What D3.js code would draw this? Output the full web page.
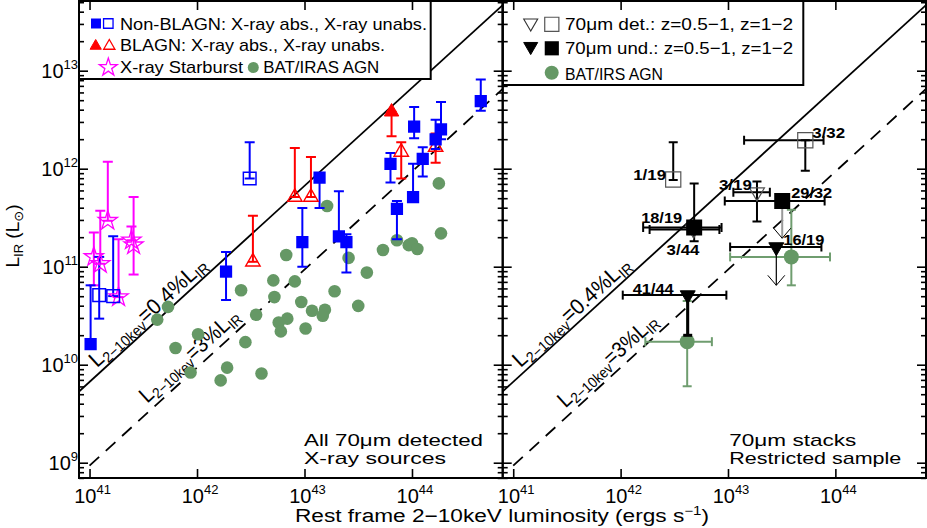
<!DOCTYPE html>
<html>
<head>
<meta charset="utf-8">
<script src="https://cdn.jsdelivr.net/npm/d3@7/dist/d3.min.js"></script>
<style>
  body { margin: 0; background: #fff; }
  text { font-family: "Liberation Sans", Arial, sans-serif; fill: #000; }
</style>
</head>
<body>
<svg id="graf" width="927" height="528"></svg>
<script>
// All values are log10: Lx in erg/s, LIR in Lsun

// Left panel, rows = [logLx, logLIR, logLIR low, logLIR high]
var nonBlagnAbs = [
  [41.01, 10.21, 10.21, 10.81],
  [42.27, 10.95, 10.66, 11.15],
  [42.98, 11.25, 11.00, 11.60],
  [43.14, 11.91, 11.60, 11.91],
  [43.32, 11.31, 11.31, 11.77],
  [43.39, 11.25, 10.94, 11.33],
  [43.80, 12.05, 11.86, 12.16],
  [43.86, 11.59, 11.28, 11.67],
  [44.01, 11.71, 11.71, 12.05],
  [44.02, 12.43, 12.31, 12.63],
  [44.10, 12.10, 11.92, 12.22],
  [44.22, 12.30, 12.20, 12.50],
  [44.27, 12.40, 12.30, 12.68],
  [44.64, 12.69, 12.59, 12.91]
];
var nonBlagnUnabs = [
  [41.09, 10.71, 10.47, 11.10],
  [41.22, 10.70, 10.70, 11.31],
  [42.49, 11.90, 11.90, 12.27]
];
var blagnAbs = [
  [43.81, 12.58, 12.33, 12.58]
];
var blagnUnabs = [
  [42.52, 11.05, 11.05, 11.52],
  [42.91, 11.71, 11.71, 12.21],
  [43.06, 11.71, 11.71, 12.12],
  [43.90, 12.17, 11.90, 12.27],
  [44.22, 12.22, 12.06, 12.36]
];
var starburst = [
  [41.04, 11.10, 10.81, 11.35],
  [41.10, 11.03, 11.03, 11.57],
  [41.17, 11.47, 11.47, 12.07],
  [41.27, 10.69, 10.69, 11.28],
  [41.39, 11.27, 11.27, 11.41],
  [41.41, 11.22, 10.92, 11.71]
];
// BAT/IRAS AGN, rows = [logLx, logLIR]
var batIras = [
  [42.83, 11.12], [42.71, 10.86], [42.91, 10.85], [42.41, 10.76], [42.72, 10.69],
  [41.73, 10.59], [42.55, 10.51], [41.63, 10.46], [42.84, 10.47], [42.76, 10.43],
  [42.78, 10.34], [42.01, 10.31], [41.80, 10.17], [42.45, 10.23], [42.28, 9.97],
  [42.60, 9.91], [41.94, 9.92], [42.22, 9.84], [43.21, 11.62], [44.25, 11.85],
  [44.27, 11.34], [43.41, 11.09], [43.73, 11.17], [43.86, 11.27], [43.97, 11.22],
  [44.00, 11.24], [44.05, 11.18], [43.58, 10.94], [43.28, 10.75], [42.97, 10.64],
  [43.07, 10.55], [43.19, 10.56], [43.17, 10.50], [43.50, 10.60], [43.01, 10.37]
];

// Right panel stacks, rows = [logLx, logLIR, Lx low, Lx high, LIR low, LIR high]
var detZ12 = [[42.49, 11.89, 42.49, 42.49, 11.885, 12.27], [43.72, 12.29, 43.15, 43.89, 11.98, 12.29]];
var detZ12Names = ["1/19", "3/32"];
var undZ12 = [[42.685, 11.40, 42.21, 42.94, 11.26, 11.85], [43.505, 11.67, 42.97, 43.90, 11.67, 11.67]];
var undZ12Names = ["18/19", "29/32"];
var detZ05 = [[43.27, 11.76, 43.05, 43.39, 11.46, 11.87], [42.68, 11.38, 42.27, 42.92, 11.38, 11.38]];
var detZ05Names = ["3/19", "3/44"];
var undZ05 = [[43.45, 11.20, 43.02, 43.87, 11.20, 11.20], [42.625, 10.71, 42.02, 42.985, 10.30, 10.71]];
var undZ05Names = ["16/19", "41/44"];
var batIrs = [[43.59, 11.10, 43.02, 43.95, 10.81, 11.58], [42.62, 10.235, 42.23, 42.85, 9.78, 10.65]];
// upper limits: [logLx, from logLIR, to logLIR]
var limitsGray = [[43.505, 11.62, 11.29]];
var limitsBlack = [[43.45, 11.20, 10.81]];

// L2-10keV = 0.4% and 3% of LIR (offset in log between Lx in erg/s and LIR in Lsun)
var solidOff = 31.175, dashOff = 32.03;

var xTicks = [41, 42, 43, 44];
var yTicks = [9, 10, 11, 12, 13];

// ---------------------------------------------------------
var P = function (v) { return Math.pow(10, v); };
var svg = d3.select("#graf");
svg.append("rect").attr("width", 927).attr("height", 528).attr("fill", "#fff");

var yTop = 1, yBot = 478;
var y = d3.scaleLog().domain([P(8.844), P(13.711)]).range([yBot, yTop]);
var xScales = [[79, 502.7], [502.7, 926]].map(function (r) {
  return d3.scaleLog().domain([P(40.902), P(44.844)]).range(r);
});
var green = "#659865";

var panels = xScales.map(function (x, i) {
  var r = x.range();
  svg.append("clipPath").attr("id", "clip" + i).append("rect")
    .attr("x", r[0]).attr("y", yTop).attr("width", r[1] - r[0]).attr("height", yBot - yTop);
  return svg.append("g").attr("clip-path", "url(#clip" + i + ")");
});

// reference lines + labels
var lineGen = d3.line();
function lineLabel(g, x, off, startLog, dist, pct, len) {
  var a0 = [x(P(startLog)), y(P(startLog - off))];
  var a1 = [x(P(startLog + 1)), y(P(startLog + 1 - off))];
  var ang = Math.atan2(a1[1] - a0[1], a1[0] - a0[0]);
  var px = a0[0] + Math.sin(ang) * dist, py = a0[1] - Math.cos(ang) * dist;
  var t = g.append("text").attr("font-size", 22)
    .attr("textLength", len).attr("lengthAdjust", "spacingAndGlyphs")
    .attr("transform", "translate(" + px + "," + py + ") rotate(" + (ang * 180 / Math.PI) + ")");
  t.append("tspan").text("L");
  t.append("tspan").attr("font-size", 15).attr("dy", 4).text("2−10kev");
  t.append("tspan").attr("dy", -4).text("=" + pct + "%L");
  t.append("tspan").attr("font-size", 15).attr("dy", 4).text("IR");
}
var dashStart = [41.58, 41.53];
panels.forEach(function (g, i) {
  var x = xScales[i], d = x.domain();
  g.append("path")
    .attr("d", lineGen([[x(d[0]), y(d[0] / P(solidOff))], [x(d[1]), y(d[1] / P(solidOff))]]))
    .attr("fill", "none").attr("stroke", "#000").attr("stroke-width", 1.8);
  g.append("path")
    .attr("d", lineGen([[x(P(41)), y(P(41 - dashOff))], [x(d[1]), y(d[1] / P(dashOff))]]))
    .attr("fill", "none").attr("stroke", "#000").attr("stroke-width", 1.8)
    .attr("stroke-dasharray", "13,9");
  lineLabel(g, x, solidOff, 41.1, 5, "0.4", 151);
  lineLabel(g, x, dashOff, dashStart[i], 7, "3", 127);
});

// helpers
function vBar(g, cx, lo, hi, color, w, cap) {
  g.append("line").attr("x1", cx).attr("x2", cx).attr("y1", lo).attr("y2", hi)
    .attr("stroke", color).attr("stroke-width", w);
  [lo, hi].forEach(function (yy) {
    g.append("line").attr("x1", cx - cap).attr("x2", cx + cap).attr("y1", yy).attr("y2", yy)
      .attr("stroke", color).attr("stroke-width", w);
  });
}
function hBar(g, cy, lo, hi, color, w, cap) {
  g.append("line").attr("y1", cy).attr("y2", cy).attr("x1", lo).attr("x2", hi)
    .attr("stroke", color).attr("stroke-width", w);
  [lo, hi].forEach(function (xx) {
    g.append("line").attr("y1", cy - cap).attr("y2", cy + cap).attr("x1", xx).attr("x2", xx)
      .attr("stroke", color).attr("stroke-width", w);
  });
}
function marker(g, cx, cy, type, size, fill, stroke, sw, rot) {
  g.append("path").attr("d", d3.symbol().type(type).size(size)())
    .attr("transform", "translate(" + cx + "," + cy + ")" + (rot ? " rotate(" + rot + ")" : ""))
    .attr("fill", fill).attr("stroke", stroke).attr("stroke-width", sw);
}

// ---------- left panel ----------
var gL = panels[0], xL = xScales[0];
batIras.forEach(function (d) {
  gL.append("circle").attr("cx", xL(P(d[0]))).attr("cy", y(P(d[1]))).attr("r", 6.3).attr("fill", green);
});
var leftSets = [
  { rows: starburst, color: "#ff00ff", type: d3.symbolStar, size: 115, fill: "none", sw: 1.3 },
  { rows: nonBlagnUnabs, color: "#0000ff", type: d3.symbolSquare, size: 160, fill: "none", sw: 1.5 },
  { rows: blagnUnabs, color: "#ff0000", type: d3.symbolTriangle, size: 90, fill: "none", sw: 1.4 },
  { rows: blagnAbs, color: "#ff0000", type: d3.symbolTriangle, size: 90, fill: "#ff0000", sw: 1 },
  { rows: nonBlagnAbs, color: "#0000ff", type: d3.symbolSquare, size: 150, fill: "#0000ff", sw: 0 }
];
leftSets.forEach(function (s) {
  s.rows.forEach(function (d) {
    vBar(gL, xL(P(d[0])), y(P(d[2])), y(P(d[3])), s.color, 2, 5);
  });
});
leftSets.forEach(function (s) {
  s.rows.forEach(function (d) {
    marker(gL, xL(P(d[0])), y(P(d[1])), s.type, s.size, s.fill, s.color, s.sw);
  });
});

// ---------- right panel ----------
var gR = panels[1], xR = xScales[1];
function errs(rows, color, wv) {
  rows.forEach(function (d) {
    var cx = xR(P(d[0])), cy = y(P(d[1]));
    if (d[3] > d[2]) hBar(gR, cy, xR(P(d[2])), xR(P(d[3])), color, 2, 4.5);
    if (d[5] > d[4]) vBar(gR, cx, y(P(d[4])), y(P(d[5])), color, wv, 4.5);
  });
}
function limits(rows, color, w) {
  rows.forEach(function (d) {
    var cx = xR(P(d[0])), y0 = y(P(d[1])), y1 = y(P(d[2]));
    gR.append("line").attr("x1", cx).attr("x2", cx).attr("y1", y0).attr("y2", y1)
      .attr("stroke", color).attr("stroke-width", w);
    gR.append("path").attr("d", lineGen([[cx - 8.5, y1 - 10], [cx, y1], [cx + 8.5, y1 - 10]]))
      .attr("fill", "none").attr("stroke", "#000").attr("stroke-width", 1);
  });
}
errs(batIrs, "#6f9d6f", 2);
batIrs.forEach(function (d) {
  gR.append("circle").attr("cx", xR(P(d[0]))).attr("cy", y(P(d[1]))).attr("r", 7.5).attr("fill", green);
});
limits(limitsGray, "#999", 2);
limits(limitsBlack, "#000", 1.2);
errs(detZ05, "#000", 2);
errs(detZ12, "#000", 2);
errs(undZ05, "#000", 3);
errs(undZ12, "#000", 2);
detZ05.forEach(function (d) { marker(gR, xR(P(d[0])), y(P(d[1])), d3.symbolTriangle, 97, "none", "#555", 1.2, 180); });
detZ12.forEach(function (d) { marker(gR, xR(P(d[0])), y(P(d[1])), d3.symbolSquare, 230, "none", "#555", 1.2); });
undZ05.forEach(function (d) { marker(gR, xR(P(d[0])), y(P(d[1])), d3.symbolTriangle, 97, "#000", "#000", 1, 180); });
undZ12.forEach(function (d) { marker(gR, xR(P(d[0])), y(P(d[1])), d3.symbolSquare, 256, "#000", "#000", 0); });

// stack labels (offsets from the marker, px)
var labelOffsets = {
  "1/19": [-40, 1], "3/32": [7, -2], "18/19": [-53, -4], "29/32": [9, -3],
  "3/19": [-38, -2], "3/44": [-27, 26], "16/19": [7, -2], "41/44": [-55, -1]
};
[[detZ12, detZ12Names], [undZ12, undZ12Names], [detZ05, detZ05Names], [undZ05, undZ05Names]].forEach(function (s) {
  s[0].forEach(function (d, i) {
    var o = labelOffsets[s[1][i]];
    svg.append("text").attr("x", xR(P(d[0])) + o[0]).attr("y", y(P(d[1])) + o[1])
      .attr("font-size", 14).attr("font-weight", "bold")
      .attr("textLength", s[1][i].length * 8.2).attr("lengthAdjust", "spacingAndGlyphs")
      .text(s[1][i]);
  });
});

// ---------- legends ----------
svg.append("rect").attr("x", 79).attr("y", yTop).attr("width", 351.7).attr("height", 78)
  .attr("fill", "#fff").attr("stroke", "#000").attr("stroke-width", 2);
svg.append("rect").attr("x", 502.7).attr("y", yTop).attr("width", 300.6).attr("height", 84)
  .attr("fill", "#fff").attr("stroke", "#000").attr("stroke-width", 2);

function legText(x0, y0, str, len) {
  return svg.append("text").attr("x", x0).attr("y", y0).attr("font-size", 17)
    .attr("textLength", len).attr("lengthAdjust", "spacingAndGlyphs").text(str);
}
marker(svg, 96, 23.5, d3.symbolSquare, 100, "#0000ff", "#0000ff", 0);
marker(svg, 108.3, 23.5, d3.symbolSquare, 90, "none", "#0000ff", 1.3);
legText(120, 29.5, "Non-BLAGN: X-ray abs., X-ray unabs.", 307);
marker(svg, 95.7, 46, d3.symbolTriangle, 55, "#ff0000", "#ff0000", 1);
marker(svg, 109.3, 46, d3.symbolTriangle, 55, "none", "#ff0000", 1.3);
legText(120, 51, "BLAGN: X-ray abs., X-ray unabs.", 265);
marker(svg, 108.3, 67.5, d3.symbolStar, 100, "none", "#ff00ff", 1.3);
legText(120, 73, "X-ray Starburst", 123);
svg.append("circle").attr("cx", 253.3).attr("cy", 67.5).attr("r", 5.5).attr("fill", green);
legText(263.3, 73, "BAT/IRAS AGN", 116);

marker(svg, 530.7, 23, d3.symbolTriangle, 85, "none", "#333", 1.1, 180);
marker(svg, 551.8, 24.3, d3.symbolSquare, 200, "none", "#555", 1.2);
legText(565, 29.5, "70μm det.: z=0.5−1, z=1−2", 228);
marker(svg, 530.7, 46.5, d3.symbolTriangle, 85, "#000", "#000", 1, 180);
marker(svg, 551.8, 48.3, d3.symbolSquare, 200, "#000", "#000", 0);
legText(565, 54, "70μm und.: z=0.5−1, z=1−2", 228);
svg.append("circle").attr("cx", 551.7).attr("cy", 72.7).attr("r", 7).attr("fill", green);
legText(565, 79.5, "BAT/IRS AGN", 98);

// panel notes
legText(304, 446, "All 70μm detected", 179);
legText(304, 463.5, "X-ray sources", 142);
legText(729.3, 446, "70μm stacks", 127);
legText(729.3, 463.5, "Restricted sample", 172);

// ---------- axes ----------
var yMinor = [];
for (var e = 8; e <= 13; e++) {
  for (var m = 2; m <= 9; m++) {
    var v = m * P(e);
    if (v > y.domain()[0] && v < y.domain()[1]) yMinor.push(v);
  }
}
function styleAxis(sel) {
  sel.select(".domain").remove();
  sel.selectAll("line").attr("stroke", "#000").attr("stroke-width", 1.6);
  sel.selectAll("text").remove();
}
xScales.forEach(function (x) {
  var r = x.range();
  svg.append("g").attr("transform", "translate(0," + yBot + ")")
    .call(d3.axisBottom(x).tickValues(xTicks.map(P)).tickSize(-9)).call(styleAxis);
  svg.append("g").attr("transform", "translate(0," + yTop + ")")
    .call(d3.axisTop(x).tickValues(xTicks.map(P)).tickSize(-9)).call(styleAxis);
  [[r[0], d3.axisLeft], [r[1], d3.axisRight]].forEach(function (s) {
    svg.append("g").attr("transform", "translate(" + s[0] + ",0)")
      .call(s[1](y).tickValues(yTicks.map(P)).tickSize(-9)).call(styleAxis);
    svg.append("g").attr("transform", "translate(" + s[0] + ",0)")
      .call(s[1](y).tickValues(yMinor).tickSize(-5)).call(styleAxis);
  });
  svg.append("rect").attr("x", r[0]).attr("y", yTop).attr("width", r[1] - r[0]).attr("height", yBot - yTop)
    .attr("fill", "none").attr("stroke", "#000").attr("stroke-width", 2);

  xTicks.forEach(function (t) {
    var lab = svg.append("text").attr("x", x(P(t)) + 3).attr("y", 503)
      .attr("text-anchor", "middle").attr("font-size", 20);
    lab.append("tspan").text("10");
    lab.append("tspan").attr("font-size", 13).attr("dy", -9).text(t);
  });
});
yTicks.forEach(function (t) {
  var lab = svg.append("text").attr("x", 78).attr("y", y(P(t)) + 7)
    .attr("text-anchor", "end").attr("font-size", 20);
  lab.append("tspan").text("10");
  lab.append("tspan").attr("font-size", 13).attr("dy", -9).text(t);
});

// axis titles
var xt = svg.append("text").attr("x", 295).attr("y", 522).attr("font-size", 18)
  .attr("textLength", 414).attr("lengthAdjust", "spacingAndGlyphs");
xt.append("tspan").text("Rest frame 2−10keV luminosity (ergs s");
xt.append("tspan").attr("font-size", 12).attr("dy", -7).text("−1");
xt.append("tspan").attr("dy", 7).text(")");

var yt = svg.append("text").attr("transform", "translate(19,236) rotate(-90)")
  .attr("text-anchor", "middle").attr("font-size", 19);
yt.append("tspan").text("L");
yt.append("tspan").attr("font-size", 13).attr("dy", 4).text("IR");
yt.append("tspan").attr("dy", -4).text(" (L");
yt.append("tspan").attr("font-size", 13).attr("dy", 4).attr("font-family", "DejaVu Sans").text("⊙");
yt.append("tspan").attr("dy", -4).text(")");
</script>
</body>
</html>
